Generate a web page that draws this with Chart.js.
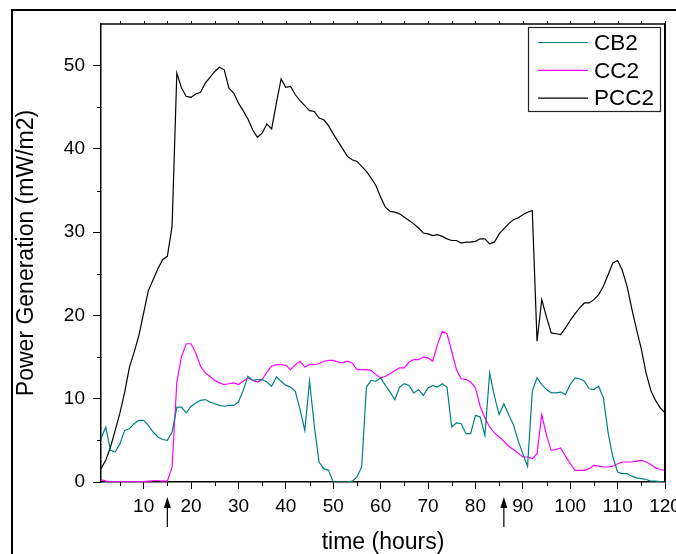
<!DOCTYPE html>
<html>
<head>
<meta charset="utf-8">
<script src="https://cdn.jsdelivr.net/npm/chart.js@4.4.0/dist/chart.umd.min.js"></script>
<style>
html, body { margin: 0; padding: 0; background: #fff; }
canvas { display: block; }
</style>
</head>
<body>
<canvas id="grafica" width="676" height="554"></canvas>
<script>
// horas de medicion
const hours = [1,2,3,4,5,6,7,8,9,10,11,12,13,14,15,16,17,18,19,20,
  21,22,23,24,25,26,27,28,29,30,31,32,33,34,35,36,37,38,39,40,
  41,42,43,44,45,46,47,48,49,50,51,52,53,54,55,56,57,58,59,60,
  61,62,63,64,65,66,67,68,69,70,71,72,73,74,75,76,77,78,79,80,
  81,82,83,84,85,86,87,88,89,90,91,92,93,94,95,96,97,98,99,100,
  101,102,103,104,105,106,107,108,109,110,111,112,113,114,115,116,117,118,119,120];

const cb2 = [5.2,6.6,3.8,3.6,4.6,6.2,6.4,7.0,7.4,7.4,6.8,6.0,5.4,5.1,5.0,6.0,9.0,9.0,8.3,9.1,
  9.5,9.8,9.9,9.6,9.4,9.2,9.1,9.2,9.2,9.6,11.0,12.7,12.2,12.3,12.3,12.0,11.5,12.6,12.1,11.6,
  11.4,10.9,8.7,6.2,12.1,6.8,2.4,1.6,1.4,0.0,0.0,0.0,0.0,0.1,0.6,1.8,11.4,12.2,12.1,12.5,
  11.6,10.8,9.9,11.4,11.8,11.6,10.7,11.1,10.4,11.3,11.6,11.4,11.8,11.4,6.6,7.1,7.0,5.8,5.8,8.0,
  7.8,5.6,13.1,10.3,8.1,9.4,8.1,6.9,5.0,3.4,1.9,10.9,12.5,11.7,11.1,10.7,10.7,10.8,10.5,11.7,
  12.5,12.4,12.1,11.2,11.1,11.5,10.1,5.9,3.0,1.2,1.0,1.0,0.7,0.5,0.4,0.3,0.1,0.1,0.05,0.0];

const cc2 = [0.3,0.1,0.05,0.05,0.05,0.05,0.05,0.05,0.05,0.05,0.1,0.15,0.15,0.1,0.1,1.8,12.0,15.1,16.6,16.6,
  15.5,13.9,13.1,12.7,12.2,11.9,11.7,11.8,11.9,11.7,12.1,12.5,12.2,12.0,12.3,13.2,13.9,14.1,14.1,14.0,
  13.5,14.1,14.5,13.8,14.1,14.1,14.2,14.5,14.6,14.6,14.4,14.3,14.5,14.3,13.5,13.5,13.5,13.4,12.9,12.5,
  12.7,13.0,13.4,13.7,13.7,14.4,14.7,14.7,15.0,14.9,14.5,16.5,18.1,17.8,15.7,13.5,12.4,12.3,12.0,11.3,
  9.1,7.7,6.6,5.9,5.4,4.9,4.3,3.9,3.5,3.0,3.0,2.8,3.4,8.1,5.6,3.8,3.9,4.1,3.1,2.2,
  1.4,1.4,1.4,1.6,2.0,1.9,1.8,1.8,1.9,2.2,2.4,2.4,2.4,2.5,2.6,2.4,2.1,1.7,1.5,1.4];

const pcc2 = [1.6,2.6,4.2,6.2,8.3,10.8,13.8,15.6,17.6,20.3,23.0,24.3,25.6,26.7,27.1,30.7,49.1,47.3,46.3,46.2,
  46.6,46.8,47.9,48.6,49.3,49.8,49.5,47.3,46.7,45.5,44.6,43.6,42.3,41.4,41.9,43.0,42.4,45.5,48.4,47.4,
  47.5,46.5,45.8,45.2,44.6,44.5,43.7,43.5,42.8,41.8,40.9,40.0,39.1,38.7,38.5,37.9,37.3,36.5,35.6,34.2,
  33.0,32.5,32.4,32.2,31.8,31.4,31.0,30.5,29.9,29.8,29.6,29.7,29.5,29.2,29.0,29.0,28.7,28.8,28.8,28.9,
  29.2,29.2,28.6,28.8,29.8,30.4,31.0,31.5,31.7,32.1,32.4,32.6,16.9,21.9,19.8,17.9,17.8,17.7,18.5,19.4,
  20.2,20.9,21.5,21.5,21.9,22.5,23.5,24.9,26.3,26.6,25.4,23.5,20.8,18.3,16.0,13.1,11.0,9.8,8.9,8.3];

const seriesNames = ['CB2', 'CC2', 'PCC2'];
const seriesColors = ['#008080', '#FF00FF', '#000000'];
const xTicks = [10,20,30,40,50,60,70,80,90,100,110,120];
const xMinor = [5,15,25,35,45,55,65,75,85,95,105,115];
const yTicks = [0,10,20,30,40,50];
const yMinor = [5,15,25,35,45];
const arrowHours = [15, 86];

const fuente = "'Liberation Sans', Arial, sans-serif";

function puntos(valores) {
  return hours.map((h, i) => ({ x: h, y: valores[i] }));
}

// marco, ticks menores, flechas y leyenda
const extras = {
  id: 'extras',
  afterDraw(chart) {
    const ctx = chart.ctx;
    const a = chart.chartArea;
    const sx = chart.scales.x;
    const sy = chart.scales.y;
    ctx.save();
    ctx.strokeStyle = '#000';
    ctx.fillStyle = '#000';

    // marco del area
    ctx.lineWidth = 1.5;
    ctx.beginPath();
    ctx.moveTo(a.left, a.top);
    ctx.lineTo(a.right, a.top);
    ctx.stroke();
    ctx.lineWidth = 2;
    ctx.beginPath();
    ctx.moveTo(a.right, a.top);
    ctx.lineTo(a.right, a.bottom);
    ctx.stroke();

    // ticks menores
    ctx.lineWidth = 1;
    xMinor.forEach(v => {
      const px = Math.round(sx.getPixelForValue(v)) + 0.5;
      ctx.beginPath();
      ctx.moveTo(px, a.bottom);
      ctx.lineTo(px, a.bottom + 4);
      ctx.moveTo(px, a.top);
      ctx.lineTo(px, a.top - 3);
      ctx.stroke();
    });
    xTicks.forEach(v => {
      const px = Math.round(sx.getPixelForValue(v)) + 0.5;
      ctx.beginPath();
      ctx.moveTo(px, a.top);
      ctx.lineTo(px, a.top - 3);
      ctx.stroke();
    });
    yMinor.forEach(v => {
      const py = Math.round(sy.getPixelForValue(v)) + 0.5;
      ctx.beginPath();
      ctx.moveTo(a.left, py);
      ctx.lineTo(a.left - 4, py);
      ctx.stroke();
    });

    // flechas
    ctx.lineWidth = 1.2;
    arrowHours.forEach(h => {
      const px = sx.getPixelForValue(h);
      ctx.beginPath();
      ctx.moveTo(px, 527);
      ctx.lineTo(px, 504);
      ctx.stroke();
      ctx.beginPath();
      ctx.moveTo(px, 497);
      ctx.lineTo(px - 3.5, 508);
      ctx.lineTo(px + 3.5, 508);
      ctx.closePath();
      ctx.fill();
    });

    // marco exterior
    ctx.lineWidth = 2;
    ctx.beginPath();
    ctx.moveTo(12, 554);
    ctx.lineTo(12, 10);
    ctx.lineTo(676, 10);
    ctx.stroke();

    // leyenda
    ctx.lineWidth = 1.2;
    ctx.strokeStyle = '#222';
    ctx.strokeRect(528.5, 27.5, 132, 84);
    ctx.font = '22.5px ' + fuente;
    ctx.textBaseline = 'middle';
    ctx.textAlign = 'left';
    chart.data.datasets.forEach((ds, i) => {
      const yy = 42.5 + i * 27.8;
      ctx.strokeStyle = ds.borderColor;
      ctx.lineWidth = 1.2;
      ctx.beginPath();
      ctx.moveTo(538, yy);
      ctx.lineTo(588, yy);
      ctx.stroke();
      ctx.fillStyle = '#000';
      ctx.fillText(ds.label, 594, yy + 1);
    });
    ctx.restore();
  }
};

const series = [cb2, cc2, pcc2];
const grafica = new Chart(document.getElementById('grafica'), {
  type: 'line',
  data: {
    datasets: series.map((vals, i) => ({
      label: seriesNames[i],
      data: puntos(vals),
      borderColor: seriesColors[i],
      borderWidth: 1.2,
      pointRadius: 0,
      tension: 0,
      fill: false
    }))
  },
  options: {
    responsive: false,
    animation: false,
    devicePixelRatio: 1,
    layout: { padding: { top: 24, right: 11, left: 0, bottom: 0 } },
    plugins: {
      legend: { display: false },
      tooltip: { enabled: false }
    },
    scales: {
      x: {
        type: 'linear',
        min: 1,
        max: 120,
        afterBuildTicks: s => { s.ticks = xTicks.map(v => ({ value: v })); },
        afterFit: s => { s.height = 72; s.paddingLeft = 0; s.paddingRight = 0; },
        grid: { drawOnChartArea: false, tickLength: 7, color: '#000', lineWidth: 1 },
        border: { display: true, color: '#000', width: 1.5 },
        ticks: { color: '#000', font: { family: fuente, size: 19 }, padding: 6, maxRotation: 0, autoSkip: false },
        title: { display: true, text: 'time (hours)', color: '#000', font: { family: fuente, size: 23, lineHeight: 1 }, padding: { top: 0, bottom: 0 } }
      },
      y: {
        min: 0,
        max: 55,
        afterBuildTicks: s => { s.ticks = yTicks.map(v => ({ value: v })); },
        afterFit: s => { s.width = 101; s.paddingTop = 0; s.paddingBottom = 0; },
        grid: { drawOnChartArea: false, tickLength: 8, color: '#000', lineWidth: 1 },
        border: { display: true, color: '#000', width: 1.5 },
        ticks: { color: '#000', font: { family: fuente, size: 19 }, padding: 8 },
        title: { display: true, text: 'Power Generation (mW/m2)', color: '#000', font: { family: fuente, size: 23, lineHeight: 1 }, padding: { top: 15, bottom: 0 } }
      }
    }
  },
  plugins: [extras]
});
</script>
</body>
</html>
